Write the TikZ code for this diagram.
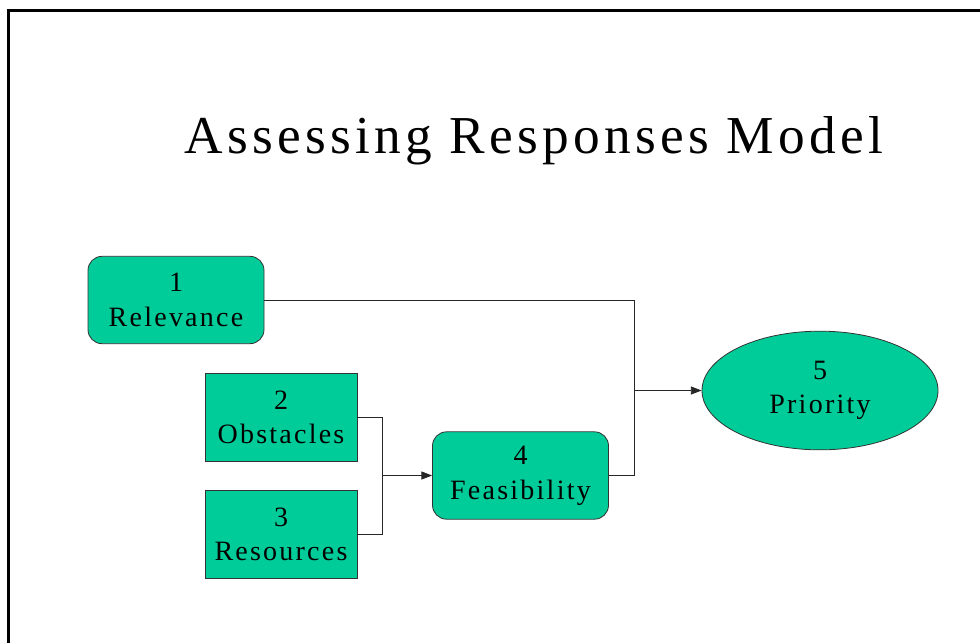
\documentclass[tikz,border=0pt]{standalone}
\usepackage{fontspec}
\setmainfont{Liberation Serif}
\newfontfamily\spaced[LetterSpace=8]{Liberation Serif}
\usetikzlibrary{arrows.meta, positioning, shapes.geometric}
\definecolor{boxgreen}{RGB}{0,204,153}
\tikzstyle{block} = [draw=black!80, fill=boxgreen, line width=0.6pt, align=center, inner sep=2pt, font=\spaced\fontsize{21}{26}\selectfont]
\tikzstyle{stage} = [block, rectangle, rounded corners=10.5pt, minimum width=132pt, minimum height=65.5pt]
\tikzstyle{factor} = [block, rectangle, minimum width=114pt, minimum height=66pt]
\tikzstyle{goal} = [block, ellipse, minimum width=177pt, minimum height=89pt]
\tikzstyle{wire} = [line width=0.6pt, black!85]
\tikzstyle{path} = [wire, -{Triangle[length=8pt, width=6pt]}]

\begin{document}
\begin{tikzpicture}[x=0.75pt, y=-0.75pt]
    \useasboundingbox (0,0) rectangle (980,643);

    % Frame.
    \draw [line width=1.6pt] (8.5,643) -- (8.5,10.5) -- (980,10.5);

    \node (title) [anchor=base] at (534,153) {\spaced\fontsize{40}{48}\selectfont Assessing Responses Model};

    \node (relevance) [stage] at (176,300) {1\\Relevance};
    \node (obstacles) [factor] at (281,417.5) {2\\Obstacles};
    \node (resources) [factor] at (281,534.5) {3\\Resources};
    \node (feasibility) [stage] at (520.5,475.5) {4\\Feasibility};
    \node (priority) [goal] at (820,390.5) {5\\Priority};

    % Junctions.
    \coordinate (join a) at (382,475.5);
    \coordinate (join b) at (634,390.5);

    % Arrows.
    \draw [wire] (obstacles) -| (join a);
    \draw [wire] (resources) -| (join a);
    \draw [path] (join a) -- (feasibility);
    \draw [wire] (relevance) -| (join b);
    \draw [wire] (feasibility) -| (join b);
    \draw [path] (join b) -- (priority);
\end{tikzpicture}
\end{document}
